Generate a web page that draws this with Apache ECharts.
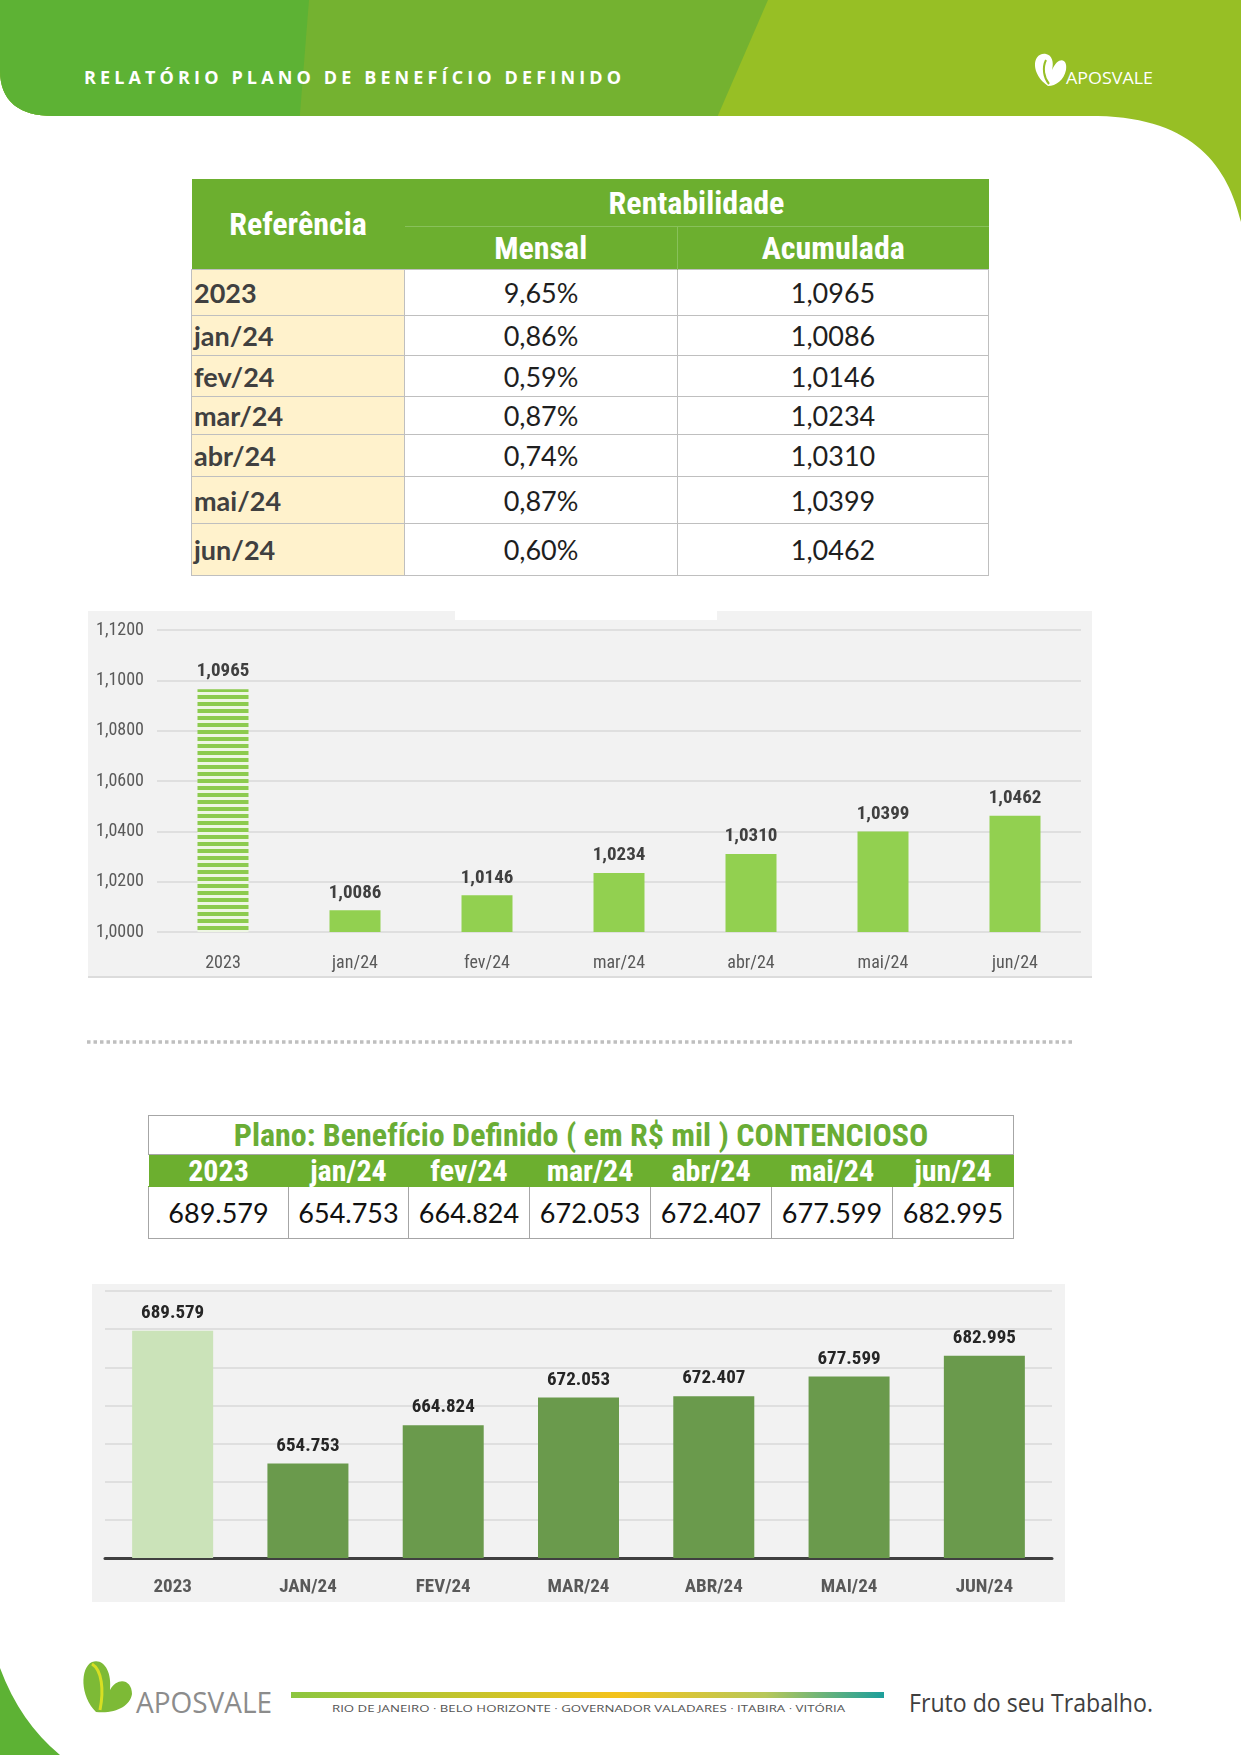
<!DOCTYPE html>
<html lang="pt">
<head>
<meta charset="UTF-8">
<title>Relatório Plano de Benefício Definido</title>
<script src="https://cdn.jsdelivr.net/npm/echarts@6/dist/echarts.min.js"></script>
<style>
  html, body { margin: 0; padding: 0; background: #fff; }
  #page { position: relative; width: 1241px; height: 1755px; overflow: hidden; }
  #deco { position: absolute; left: 0; top: 0; z-index: 0; }
  .abs { position: absolute; z-index: 1; }
  .cond { font-family: 'Liberation Sans Narrow', 'Roboto Condensed', 'Liberation Sans', sans-serif; }
  table { border-collapse: collapse; table-layout: fixed; }
  #t1 { left: 191px; top: 179px; width: 797px; }
  #t1 th { background: #6CAF2F; color: #fff; font-weight: bold; font-size: 32px; padding: 0; }
  #t1 tr.h1 th { height: 47px; }
  #t1 tr.h2 th { height: 42px; border-top: 1px solid #88C15A; }
  #t1 tr.h2 th + th { border-left: 1px solid #88C15A; }
  #t1 td { border: 1px solid #BFBFBF; padding: 0; text-align: center; font-family: Lato, 'Open Sans', sans-serif; font-size: 27px; color: #1E1E1E; }
  #t1 td.ref { background: #FFF2CC; text-align: left; padding-left: 2px; font-weight: bold; font-size: 27px; color: #404040; }
  #t2 { left: 148px; top: 1115px; width: 865px; }
  #t2 td { border: 1px solid #A6A6A6; padding: 0; text-align: center; }
  #t2 tr.tit td { height: 38px; color: #6AAD35; font-weight: bold; font-size: 32px; line-height: 36px; }
  #t2 tr.cab td { height: 31px; background: #6CAF2F; color: #fff; font-weight: bold; font-size: 30px; line-height: 31px; border-color: #6CAF2F; border-left: 1px solid #fff; }
  #t2 tr.val td { height: 51px; font-family: Lato, 'Open Sans', sans-serif; font-size: 27px; color: #111; }
</style>
</head>
<body>
<div id="page">
<svg id="deco" width="1241" height="1755" xmlns="http://www.w3.org/2000/svg">
  <defs>
    <clipPath id="hc"><path d="M0,0 H1241 V222 C1228,168 1195,118 1098,116 H54 Q0,116 0,70 Z"/></clipPath>
    <linearGradient id="gb" x1="0" x2="1" y1="0" y2="0">
      <stop offset="0" stop-color="#8CC63F"/>
      <stop offset="0.55" stop-color="#F4C21B"/>
      <stop offset="0.8" stop-color="#B7C85A"/>
      <stop offset="1" stop-color="#1C9E9B"/>
    </linearGradient>
  </defs>
  <g clip-path="url(#hc)">
    <rect x="0" y="0" width="1241" height="240" fill="#97BF25"/>
    <polygon points="0,0 768,0 664,240 0,240" fill="#74B230"/>
    <polygon points="0,0 309,0 290,240 0,240" fill="#5DB234"/>
  </g>
  <text x="84" y="84" fill="#fff" font-family="'Open Sans', sans-serif" font-weight="bold" font-size="18" textLength="537" lengthAdjust="spacing">RELATÓRIO PLANO DE BENEFÍCIO DEFINIDO</text>
  <path d="M1048,86 C1030,74 1032,52 1046,54 C1052,55 1054,62 1052,70 C1058,56 1068,58 1066,70 C1064,80 1056,86 1048,86 Z" fill="#fff"/>
  <path d="M1046,60 C1042,68 1044,78 1049,84" stroke="#97BF25" stroke-width="2" fill="none"/>
  <text x="1066" y="84" fill="#fff" font-family="'Open Sans', sans-serif" font-size="17" textLength="87" lengthAdjust="spacingAndGlyphs">APOSVALE</text>

  <line x1="87" y1="1042" x2="1074" y2="1042" stroke="#BFBFBF" stroke-width="3.5" stroke-dasharray="3.5,3"/>

  <path d="M0,1668 Q20,1722 60,1755 L0,1755 Z" fill="#5DB234"/>
  <path d="M96,1712 C80,1696 80,1668 92,1662 C104,1658 112,1672 110,1690 C118,1676 132,1680 132,1694 C130,1706 116,1714 96,1712 Z" fill="#7DBA36"/>
  <path d="M92,1664 C102,1670 104,1690 100,1710" stroke="#D7DF23" stroke-width="3" fill="none"/>
  <text x="136" y="1713" fill="#8C8C8C" font-family="'Open Sans', sans-serif" font-size="29" textLength="136" lengthAdjust="spacingAndGlyphs">APOSVALE</text>
  <rect x="291" y="1692" width="593" height="6" fill="url(#gb)"/>
  <text x="332" y="1712" fill="#555" font-family="'Open Sans', sans-serif" font-size="9.5" textLength="513" lengthAdjust="spacingAndGlyphs">RIO DE JANEIRO · BELO HORIZONTE · GOVERNADOR VALADARES · ITABIRA · VITÓRIA</text>
  <text x="909" y="1712" fill="#3F3F3F" font-family="'Open Sans', sans-serif" font-size="25" textLength="244" lengthAdjust="spacingAndGlyphs">Fruto do seu Trabalho.</text>
</svg>

<table id="t1" class="abs">
  <colgroup><col style="width:213px"><col style="width:273px"><col style="width:311px"></colgroup>
  <tr class="h1"><th rowspan="2" class="cond">Referência</th><th colspan="2" class="cond">Rentabilidade</th></tr>
  <tr class="h2"><th class="cond">Mensal</th><th class="cond">Acumulada</th></tr>
</table>

<div id="chart1" class="abs" style="left:88px; top:611px; width:1004px; height:365px; border-bottom:2px solid #DCDCDC;"></div>

<table id="t2" class="abs">
  <colgroup><col style="width:140px"><col style="width:120px"><col style="width:121px"><col style="width:121px"><col style="width:121px"><col style="width:121px"><col style="width:121px"></colgroup>
  <tr class="tit"><td colspan="7" class="cond">Plano: Benefício Definido ( em R$ mil ) CONTENCIOSO</td></tr>
</table>

<div id="chart2" class="abs" style="left:92px; top:1284px; width:973px; height:318px;"></div>
</div>

<script type="text/javascript">
    var categorias = ['2023', 'jan/24', 'fev/24', 'mar/24', 'abr/24', 'mai/24', 'jun/24'];
    var mensal = [9.65, 0.86, 0.59, 0.87, 0.74, 0.87, 0.60];
    var acumulada = [1.0965, 1.0086, 1.0146, 1.0234, 1.0310, 1.0399, 1.0462];
    var contencioso = [689.579, 654.753, 664.824, 672.053, 672.407, 677.599, 682.995];
    var eixoAcum = { min: 1.0, max: 1.12, intervalo: 0.02 };
    var eixoCont = { min: 630, max: 700, intervalo: 10 };

    var alturasLinhas = [46, 40, 41, 38, 42, 47, 52];
    var fonteCond = "'Liberation Sans Narrow', 'Roboto Condensed', 'Liberation Sans', sans-serif";

    function virgula(v, casas) { return v.toFixed(casas).replace('.', ','); }

    // tabela 1
    var t1 = document.getElementById('t1');
    categorias.forEach(function (c, i) {
        var tr = document.createElement('tr');
        tr.style.height = alturasLinhas[i] + 'px';
        tr.innerHTML = '<td class="ref">' + c + '</td><td>' + virgula(mensal[i], 2) + '%</td><td>' + virgula(acumulada[i], 4) + '</td>';
        t1.appendChild(tr);
    });

    // tabela 2
    var t2 = document.getElementById('t2');
    var cab = document.createElement('tr');
    cab.className = 'cab';
    cab.innerHTML = categorias.map(function (c) { return '<td class="cond">' + c + '</td>'; }).join('');
    t2.appendChild(cab);
    var val = document.createElement('tr');
    val.className = 'val';
    val.innerHTML = contencioso.map(function (v) { return '<td>' + v.toFixed(3) + '</td>'; }).join('');
    t2.appendChild(val);

    // listras da barra 2023
    var listra = document.createElement('canvas');
    listra.width = 8; listra.height = 7;
    var cx = listra.getContext('2d');
    cx.fillStyle = '#EEF6E4'; cx.fillRect(0, 0, 8, 7);
    cx.fillStyle = '#8CCB4E'; cx.fillRect(0, 0, 8, 4);

    var myChart1 = echarts.init(document.getElementById('chart1'));
    myChart1.setOption({
        backgroundColor: '#F2F2F2',
        animation: false,
        grid: { left: 69, right: 11, top: 19, bottom: 44 },
        graphic: [{ type: 'rect', shape: { x: 367, y: 0, width: 262, height: 9 }, style: { fill: '#fff' } }],
        xAxis: {
            type: 'category',
            data: categorias,
            axisLine: { show: false },
            axisTick: { show: false },
            axisLabel: { margin: 22, fontSize: 18, color: '#595959', fontFamily: fonteCond }
        },
        yAxis: {
            type: 'value',
            min: eixoAcum.min, max: eixoAcum.max, interval: eixoAcum.intervalo,
            axisLabel: { margin: 13, fontSize: 18, color: '#595959', fontFamily: fonteCond,
                formatter: function (v) { return virgula(v, 4); } },
            splitLine: { lineStyle: { color: '#D9D9D9', width: 1.5 } }
        },
        series: [{
            type: 'bar',
            barWidth: 51,
            data: acumulada.map(function (v, i) {
                return i === 0 ? { value: v, itemStyle: { color: { image: listra, repeat: 'repeat' } } } : v;
            }),
            itemStyle: { color: '#92D050' },
            label: {
                show: true, position: 'top', distance: 8,
                fontSize: 19, fontWeight: 'bold', color: '#404040', fontFamily: fonteCond,
                formatter: function (p) { return virgula(p.value, 4); }
            }
        }]
    });

    var myChart2 = echarts.init(document.getElementById('chart2'));
    myChart2.setOption({
        backgroundColor: '#F2F2F2',
        animation: false,
        grid: { left: 13, right: 13, top: 7, bottom: 44 },
        xAxis: {
            type: 'category',
            data: categorias,
            axisLine: { lineStyle: { color: '#404040', width: 3 } },
            axisTick: { show: false },
            axisLabel: { margin: 20, fontSize: 19, fontWeight: 'bold', color: '#595959', fontFamily: fonteCond,
                formatter: function (v) { return v.toUpperCase(); } }
        },
        yAxis: {
            type: 'value',
            min: eixoCont.min, max: eixoCont.max, interval: eixoCont.intervalo,
            axisLabel: { show: false },
            splitLine: { lineStyle: { color: '#D9D9D9', width: 1.5 } }
        },
        series: [{
            type: 'bar',
            barWidth: 81,
            data: contencioso.map(function (v, i) {
                return i === 0 ? { value: v, itemStyle: { color: '#CBE3B9' } } : v;
            }),
            itemStyle: { color: '#6A9A4C' },
            label: {
                show: true, position: 'top', distance: 8,
                fontSize: 19, fontWeight: 'bold', color: '#262626', fontFamily: fonteCond,
                formatter: function (p) { return p.value.toFixed(3); }
            }
        }]
    });
</script>
</body>
</html>
